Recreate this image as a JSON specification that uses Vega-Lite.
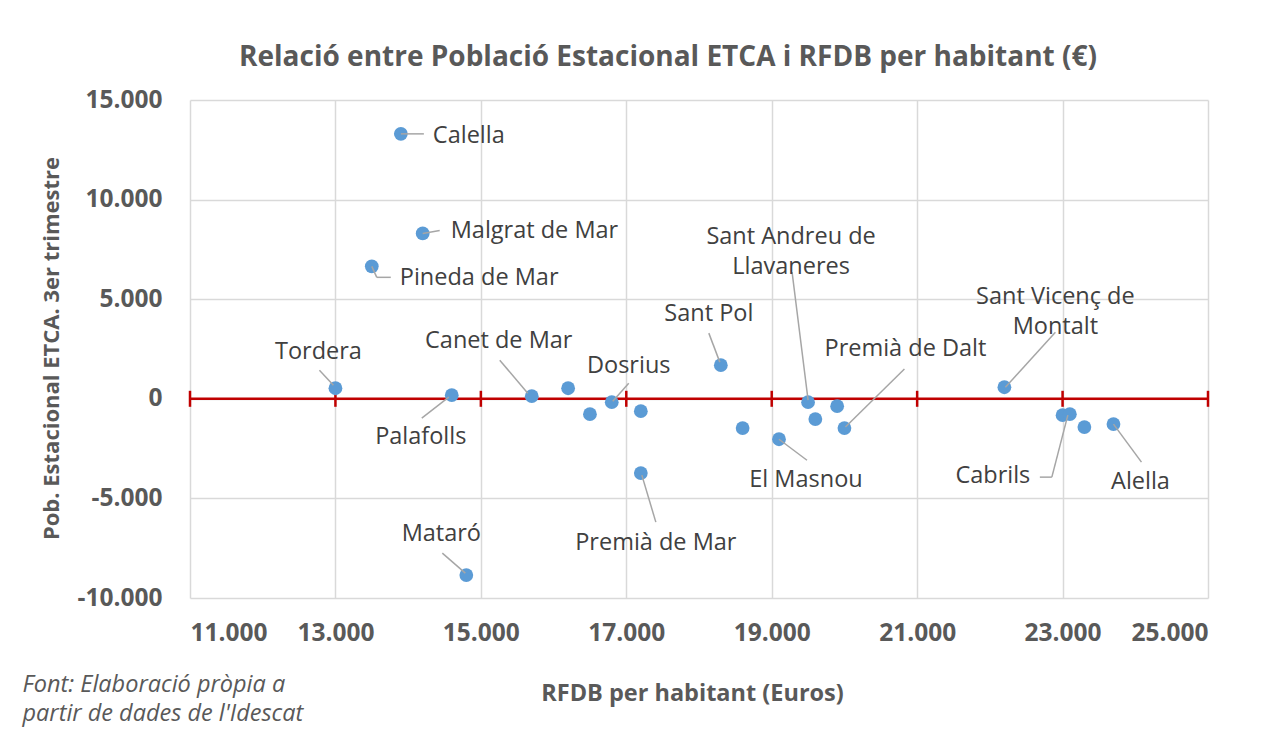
{
  "$schema": "https://vega.github.io/schema/vega-lite/v6.json",
  "width": 1018,
  "height": 498,
  "autosize": {"type": "none"},
  "padding": {"left": 190, "top": 100, "right": 65, "bottom": 135},
  "background": "#ffffff",
  "config": {
    "font": "Open Sans",
    "view": {"stroke": null},
    "text": {"font": "Open Sans", "fontSize": 23.5, "color": "#404040", "lineBreak": "\n", "lineHeight": 30},
    "rule": {"color": "#a6a6a6", "strokeWidth": 1.5}
  },
  "title": {
    "text": "Relació entre Població Estacional ETCA i RFDB per habitant (€)",
    "anchor": "middle",
    "font": "Open Sans",
    "fontSize": 28,
    "fontWeight": "bold",
    "color": "#595959",
    "dx": -31,
    "offset": 15
  },
  "datasets": {
    "pts": [
      {"municipi": "Calella", "rfdb": 13900, "pob": 13300},
      {"municipi": "Malgrat de Mar", "rfdb": 14200, "pob": 8300},
      {"municipi": "Pineda de Mar", "rfdb": 13500, "pob": 6650},
      {"municipi": "Tordera", "rfdb": 13000, "pob": 530},
      {"municipi": "Palafolls", "rfdb": 14600, "pob": 180},
      {"municipi": "Mataró", "rfdb": 14800, "pob": -8850},
      {"municipi": "Canet de Mar", "rfdb": 15700, "pob": 130},
      {"municipi": "", "rfdb": 16200, "pob": 530},
      {"municipi": "", "rfdb": 16500, "pob": -770},
      {"municipi": "Dosrius", "rfdb": 16800, "pob": -170},
      {"municipi": "", "rfdb": 17200, "pob": -620},
      {"municipi": "Premià de Mar", "rfdb": 17200, "pob": -3730},
      {"municipi": "Sant Pol", "rfdb": 18300, "pob": 1690},
      {"municipi": "", "rfdb": 18600, "pob": -1470},
      {"municipi": "El Masnou", "rfdb": 19100, "pob": -2030},
      {"municipi": "Sant Andreu de\nLlavaneres", "rfdb": 19500, "pob": -170},
      {"municipi": "", "rfdb": 19600, "pob": -1020},
      {"municipi": "", "rfdb": 19900, "pob": -370},
      {"municipi": "Premià de Dalt", "rfdb": 20000, "pob": -1470},
      {"municipi": "Sant Vicenç de\nMontalt", "rfdb": 22200, "pob": 580},
      {"municipi": "", "rfdb": 23000, "pob": -820},
      {"municipi": "Cabrils", "rfdb": 23100, "pob": -770},
      {"municipi": "", "rfdb": 23300, "pob": -1420},
      {"municipi": "Alella", "rfdb": 23700, "pob": -1270}
    ],
    "xticks": [
      {"x": 11000}, {"x": 13000}, {"x": 15000}, {"x": 17000},
      {"x": 19000}, {"x": 21000}, {"x": 23000}, {"x": 25000}
    ]
  },
  "resolve": {"axis": {"x": "independent"}},
  "layer": [
    {
      "data": {"name": "pts"},
      "mark": {"type": "circle", "size": 190, "color": "#5b9bd5", "opacity": 0},
      "encoding": {
        "x": {
          "field": "rfdb", "type": "quantitative",
          "scale": {"domain": [11000, 25000], "nice": false, "zero": false},
          "axis": {
            "values": [11000, 13000, 15000, 17000, 19000, 21000, 23000, 25000],
            "labelExpr": "replace(format(datum.value, ','), ',', '.')",
            "orient": "bottom",
            "domain": false, "ticks": false, "tickSize": 0,
            "grid": true, "gridColor": "#d9d9d9", "gridWidth": 1.5,
            "labelFont": "Open Sans", "labelFontSize": 24.5, "labelFontWeight": "bold", "labelColor": "#595959",
            "labelPadding": 23,
            "title": "RFDB per habitant (Euros)",
            "titleFont": "Open Sans", "titleFontSize": 23.5, "titleFontWeight": "bold", "titleColor": "#595959",
            "titleX": 502, "titleY": 102, "titleBaseline": "alphabetic", "titleAlign": "center"
          }
        },
        "y": {
          "field": "pob", "type": "quantitative",
          "scale": {"domain": [-10000, 15000], "nice": false, "zero": false},
          "axis": {
            "orient": "left",
            "values": [-10000, -5000, 0, 5000, 10000, 15000],
            "labelExpr": "datum.value < 0 ? '-' + replace(format(-datum.value, ','), ',', '.') : replace(format(datum.value, ','), ',', '.')",
            "domain": false, "ticks": false, "tickSize": 0,
            "grid": true, "gridColor": "#d9d9d9", "gridWidth": 1.5,
            "labelFont": "Open Sans", "labelFontSize": 24.5, "labelFontWeight": "bold", "labelColor": "#595959",
            "labelPadding": 28,
            "title": "Pob. Estacional ETCA. 3er trimestre",
            "titleFont": "Open Sans", "titleFontSize": 22, "titleFontWeight": "bold", "titleColor": "#595959",
            "titleX": -132, "titleY": 248, "titleBaseline": "alphabetic", "titleAlign": "center"
          }
        }
      }
    },
    {
      "data": {"values": [{}]},
      "mark": {"type": "rule", "color": "#c00000", "strokeWidth": 2.5},
      "encoding": {
        "x": {"datum": 11000, "type": "quantitative", "axis": null},
        "x2": {"datum": 25000},
        "y": {"datum": 0, "type": "quantitative"}
      }
    },
    {
      "data": {"name": "xticks"},
      "mark": {"type": "rule", "color": "#c00000", "strokeWidth": 2.5, "yOffset": -8, "y2Offset": 8},
      "encoding": {
        "x": {
          "field": "x", "type": "quantitative",
          "axis": {
            "orient": "bottom",
            "labels": false, "domain": false, "ticks": false, "grid": false,
            "title": ["Font: Elaboració pròpia a", "partir de dades de l'Idescat"],
            "titleFont": "Open Sans", "titleFontSize": 23.5, "titleFontWeight": "normal", "titleFontStyle": "italic",
            "titleColor": "#595959", "titleAlign": "left", "titleBaseline": "alphabetic",
            "titleX": -168, "titleY": 93, "titleLineHeight": 29, "titleAngle": 0
          }
        },
        "y": {"datum": 0, "type": "quantitative"},
        "y2": {"datum": 0}
      }
    },
    {
      "data": {"name": "pts"},
      "mark": {"type": "circle", "size": 190, "color": "#5b9bd5", "opacity": 1},
      "encoding": {
        "x": {"field": "rfdb", "type": "quantitative", "axis": null},
        "y": {"field": "pob", "type": "quantitative"}
      }
    },
    {
      "data": {"name": "pts"},
      "encoding": {
        "x": {"field": "rfdb", "type": "quantitative", "axis": null},
        "y": {"field": "pob", "type": "quantitative"}
      },
      "layer": [
        {
          "transform": [{"filter": {"field": "municipi", "equal": "Calella"}}],
          "layer": [
            {"mark": {"type": "rule", "xOffset": 0, "yOffset": 0, "x2Offset": 23, "y2Offset": 0}, "encoding": {"x2": {"field": "rfdb"}, "y2": {"field": "pob"}}},
            {"mark": {"type": "text", "align": "left", "baseline": "middle", "dx": 32, "dy": 2}, "encoding": {"text": {"field": "municipi"}}}
          ]
        },
        {
          "transform": [{"filter": {"field": "municipi", "equal": "Malgrat de Mar"}}],
          "layer": [
            {"mark": {"type": "rule", "xOffset": 0, "yOffset": 0, "x2Offset": 17, "y2Offset": -3}, "encoding": {"x2": {"field": "rfdb"}, "y2": {"field": "pob"}}},
            {"mark": {"type": "text", "align": "left", "baseline": "middle", "dx": 28, "dy": -2}, "encoding": {"text": {"field": "municipi"}}}
          ]
        },
        {
          "transform": [{"filter": {"field": "municipi", "equal": "Pineda de Mar"}}],
          "layer": [
            {"mark": {"type": "rule", "xOffset": 0, "yOffset": 0, "x2Offset": 5, "y2Offset": 11}, "encoding": {"x2": {"field": "rfdb"}, "y2": {"field": "pob"}}},
            {"mark": {"type": "rule", "xOffset": 5, "yOffset": 11, "x2Offset": 19, "y2Offset": 11}, "encoding": {"x2": {"field": "rfdb"}, "y2": {"field": "pob"}}},
            {"mark": {"type": "text", "align": "left", "baseline": "middle", "dx": 28, "dy": 12}, "encoding": {"text": {"field": "municipi"}}}
          ]
        },
        {
          "transform": [{"filter": {"field": "municipi", "equal": "Tordera"}}],
          "layer": [
            {"mark": {"type": "rule", "xOffset": -16, "yOffset": -18, "x2Offset": -2, "y2Offset": -3}, "encoding": {"x2": {"field": "rfdb"}, "y2": {"field": "pob"}}},
            {"mark": {"type": "text", "align": "center", "baseline": "middle", "dx": -17, "dy": -36}, "encoding": {"text": {"field": "municipi"}}}
          ]
        },
        {
          "transform": [{"filter": {"field": "municipi", "equal": "Palafolls"}}],
          "layer": [
            {"mark": {"type": "rule", "xOffset": -30, "yOffset": 23, "x2Offset": -3, "y2Offset": 2}, "encoding": {"x2": {"field": "rfdb"}, "y2": {"field": "pob"}}},
            {"mark": {"type": "text", "align": "center", "baseline": "middle", "dx": -31, "dy": 42}, "encoding": {"text": {"field": "municipi"}}}
          ]
        },
        {
          "transform": [{"filter": {"field": "municipi", "equal": "Mataró"}}],
          "layer": [
            {"mark": {"type": "rule", "xOffset": -24, "yOffset": -22, "x2Offset": -1, "y2Offset": -2}, "encoding": {"x2": {"field": "rfdb"}, "y2": {"field": "pob"}}},
            {"mark": {"type": "text", "align": "center", "baseline": "middle", "dx": -25, "dy": -41}, "encoding": {"text": {"field": "municipi"}}}
          ]
        },
        {
          "transform": [{"filter": {"field": "municipi", "equal": "Canet de Mar"}}],
          "layer": [
            {"mark": {"type": "rule", "xOffset": -32, "yOffset": -36, "x2Offset": -4, "y2Offset": -3}, "encoding": {"x2": {"field": "rfdb"}, "y2": {"field": "pob"}}},
            {"mark": {"type": "text", "align": "center", "baseline": "middle", "dx": -33, "dy": -55}, "encoding": {"text": {"field": "municipi"}}}
          ]
        },
        {
          "transform": [{"filter": {"field": "municipi", "equal": "Dosrius"}}],
          "layer": [
            {"mark": {"type": "rule", "xOffset": 17, "yOffset": -19, "x2Offset": 1, "y2Offset": -1}, "encoding": {"x2": {"field": "rfdb"}, "y2": {"field": "pob"}}},
            {"mark": {"type": "text", "align": "center", "baseline": "middle", "dx": 17, "dy": -36}, "encoding": {"text": {"field": "municipi"}}}
          ]
        },
        {
          "transform": [{"filter": {"field": "municipi", "equal": "Premià de Mar"}}],
          "layer": [
            {"mark": {"type": "rule", "xOffset": 1, "yOffset": 2, "x2Offset": 15, "y2Offset": 49}, "encoding": {"x2": {"field": "rfdb"}, "y2": {"field": "pob"}}},
            {"mark": {"type": "text", "align": "center", "baseline": "middle", "dx": 15, "dy": 70}, "encoding": {"text": {"field": "municipi"}}}
          ]
        },
        {
          "transform": [{"filter": {"field": "municipi", "equal": "Sant Pol"}}],
          "layer": [
            {"mark": {"type": "rule", "xOffset": -12, "yOffset": -32, "x2Offset": -1, "y2Offset": -3}, "encoding": {"x2": {"field": "rfdb"}, "y2": {"field": "pob"}}},
            {"mark": {"type": "text", "align": "center", "baseline": "middle", "dx": -12, "dy": -51}, "encoding": {"text": {"field": "municipi"}}}
          ]
        },
        {
          "transform": [{"filter": {"field": "municipi", "equal": "El Masnou"}}],
          "layer": [
            {"mark": {"type": "rule", "xOffset": 0, "yOffset": 0, "x2Offset": 28, "y2Offset": 21}, "encoding": {"x2": {"field": "rfdb"}, "y2": {"field": "pob"}}},
            {"mark": {"type": "text", "align": "center", "baseline": "middle", "dx": 27, "dy": 41}, "encoding": {"text": {"field": "municipi"}}}
          ]
        },
        {
          "transform": [{"filter": {"field": "municipi", "equal": "Sant Andreu de\nLlavaneres"}}],
          "layer": [
            {"mark": {"type": "rule", "xOffset": -16, "yOffset": -130, "x2Offset": 0, "y2Offset": -2}, "encoding": {"x2": {"field": "rfdb"}, "y2": {"field": "pob"}}},
            {"mark": {"type": "text", "align": "center", "baseline": "middle", "dx": -17, "dy": -165}, "encoding": {"text": {"field": "municipi"}}}
          ]
        },
        {
          "transform": [{"filter": {"field": "municipi", "equal": "Premià de Dalt"}}],
          "layer": [
            {"mark": {"type": "rule", "xOffset": 60, "yOffset": -59, "x2Offset": 1, "y2Offset": -1}, "encoding": {"x2": {"field": "rfdb"}, "y2": {"field": "pob"}}},
            {"mark": {"type": "text", "align": "center", "baseline": "middle", "dx": 61, "dy": -79}, "encoding": {"text": {"field": "municipi"}}}
          ]
        },
        {
          "transform": [{"filter": {"field": "municipi", "equal": "Sant Vicenç de\nMontalt"}}],
          "layer": [
            {"mark": {"type": "rule", "xOffset": 51, "yOffset": -55, "x2Offset": 1, "y2Offset": 0}, "encoding": {"x2": {"field": "rfdb"}, "y2": {"field": "pob"}}},
            {"mark": {"type": "text", "align": "center", "baseline": "middle", "dx": 51, "dy": -90}, "encoding": {"text": {"field": "municipi"}}}
          ]
        },
        {
          "transform": [{"filter": {"field": "municipi", "equal": "Cabrils"}}],
          "layer": [
            {"mark": {"type": "rule", "xOffset": -30, "yOffset": 63, "x2Offset": -18, "y2Offset": 63}, "encoding": {"x2": {"field": "rfdb"}, "y2": {"field": "pob"}}},
            {"mark": {"type": "rule", "xOffset": -18, "yOffset": 63, "x2Offset": -2, "y2Offset": 1}, "encoding": {"x2": {"field": "rfdb"}, "y2": {"field": "pob"}}},
            {"mark": {"type": "text", "align": "center", "baseline": "middle", "dx": -77, "dy": 62}, "encoding": {"text": {"field": "municipi"}}}
          ]
        },
        {
          "transform": [{"filter": {"field": "municipi", "equal": "Alella"}}],
          "layer": [
            {"mark": {"type": "rule", "xOffset": 0, "yOffset": 0, "x2Offset": 28, "y2Offset": 38}, "encoding": {"x2": {"field": "rfdb"}, "y2": {"field": "pob"}}},
            {"mark": {"type": "text", "align": "center", "baseline": "middle", "dx": 27, "dy": 58}, "encoding": {"text": {"field": "municipi"}}}
          ]
        }
      ]
    }
  ]
}
